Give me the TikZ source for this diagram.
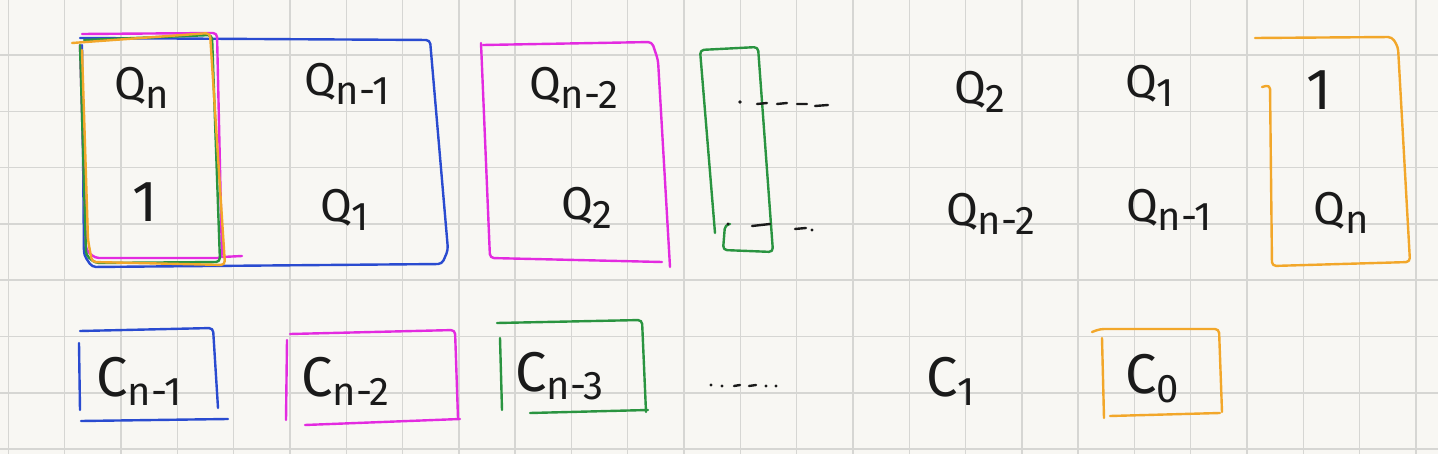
\documentclass[tikz,border=0pt]{standalone}
\usepackage{fontspec}
\setmainfont{Fira Sans}
\definecolor{penblue}{HTML}{2A4BD0}
\definecolor{penmag}{HTML}{E32BE0}
\definecolor{pengreen}{HTML}{2A9440}
\definecolor{penorange}{HTML}{F2A72A}
\definecolor{paper}{HTML}{F8F7F3}
\definecolor{gridc}{HTML}{D6D6D3}
\definecolor{ink}{HTML}{1A1A1A}
\newcommand\lsub[1]{\raisebox{-9pt}{\fontsize{40}{42}\selectfont #1}}
\tikzset{
  ent/.style={anchor=base west, inner sep=0pt, text=ink, font=\fontsize{46}{48}\selectfont},
  cent/.style={ent, font=\fontsize{56}{58}\selectfont},
  onent/.style={ent, font=\fontsize{58}{60}\selectfont},
  pen/.style={line width=2.4pt, line cap=round, line join=round, rounded corners=4pt},
  inkpen/.style={line width=2.4pt, line cap=round, ink},
  gridline/.style={line width=1.4pt, gridc}
}
\begin{document}
\begin{tikzpicture}[x=1pt,y=-1pt]
\fill[paper] (0,0) rectangle (1438,454);
\useasboundingbox (0,0) rectangle (1438,454);
\foreach \i in {0,...,25} \draw[gridline] ({8.4+56.3*\i},0) -- ({8.4+56.3*\i},454);
\foreach \j in {1,...,8} \draw[gridline] (0,{-1.3+56.3*\j}) -- (1438,{-1.3+56.3*\j});

% ---- boxes, first block
\draw[pen, penblue] (80,38) -- (430,40) -- (448,250) -- (442,264) -- (92,267) -- (84,255) -- (82,45);
\draw[pen, penmag] (82,34) -- (217,33) -- (222,258) -- (95,258) -- (86,250) -- (80,45);
\draw[pen, penmag] (222,257) -- (242,256);
\draw[pen, pengreen] (84,40) -- (212,35) -- (220,262) -- (95,263) -- (86,255) -- (80,45);
\draw[pen, penorange] (72,43) -- (210,33) -- (225,265) -- (92,262) -- (88,240) -- (82,50);
% second block
\draw[pen, penmag] (483,45) -- (652,42) -- (658,60) -- (670,267);
\draw[pen, penmag] (481,43) -- (490,258) -- (662,262);
% green strip
\draw[pen, pengreen] (715,233) -- (700,50) -- (758,47) -- (773,252) -- (723,250) -- (725,225) -- (730,224);
% right orange
\draw[pen, penorange] (1255,38) -- (1392,37) -- (1398,47) -- (1410,262) -- (1272,266) -- (1270,85) -- (1262,87);

% dashes
\fill[ink] (740,102) circle (1.8);
\draw[inkpen] (757,104) -- (767,103) (777,104) -- (787,103) (797,104) -- (807,104) (815,106) -- (828,105);
\fill[ink] (728,224) circle (1.6);
\draw[inkpen] (752,226) -- (770,224) (795,229) -- (806,228);
\fill[ink] (812,230) circle (1.6);

% ---- entries
\node[ent] (q11) at (114,100) {Q\lsub{n}};
\node[ent] (q12) at (304,96) {Q\lsub{n-1}};
\node[ent] (q13) at (529,100) {Q\lsub{n-2}};
\node[ent] (q15) at (954,104) {Q\lsub{2}};
\node[ent] (q16) at (1125,98) {Q\lsub{1}};
\node[onent] (q17) at (1306,110) {1};

\node[onent] (q21) at (132,222) {1};
\node[ent] (q22) at (320,222) {Q\lsub{1}};
\node[ent] (q23) at (561,220) {Q\lsub{2}};
\node[ent] (q25) at (946,226) {Q\lsub{n-2}};
\node[ent] (q26) at (1126,222) {Q\lsub{n-1}};
\node[ent] (q27) at (1313,225) {Q\lsub{n}};

% ---- C row
\node[cent] (c1) at (96,396) {C\lsub{n-1}};
\node[cent] (c2) at (301,396) {C\lsub{n-2}};
\node[cent] (c3) at (515,391) {C\lsub{n-3}};
\node[cent] (c5) at (926,396) {C\lsub{1}};
\node[cent] (c6) at (1125,393) {C\lsub{0}};

\fill[ink] (711,385) circle (1.6) (722,386) circle (1.6) (766,386) circle (1.6) (776,386) circle (1.6);
\draw[inkpen] (734,386) -- (740,385) (749,386) -- (756,385);

\draw[pen, penblue] (80,331) -- (213,328) -- (218,408);
\draw[pen, penblue] (79,343) -- (80,410);
\draw[pen, penblue] (81,421) -- (228,419);

\draw[pen, penmag] (290,334) -- (455,330) -- (458,418);
\draw[pen, penmag] (287,340) -- (286,420);
\draw[pen, penmag] (305,425) -- (460,419);

\draw[pen, pengreen] (497,323) -- (642,320) -- (646,412);
\draw[pen, pengreen] (500,338) -- (502,410);
\draw[pen, pengreen] (530,413) -- (648,410);

\draw[pen, penorange] (1092,332) -- (1100,329) -- (1219,329) -- (1222,412);
\draw[pen, penorange] (1102,338) -- (1104,418);
\draw[pen, penorange] (1110,416) -- (1220,413);
\end{tikzpicture}
\end{document}
